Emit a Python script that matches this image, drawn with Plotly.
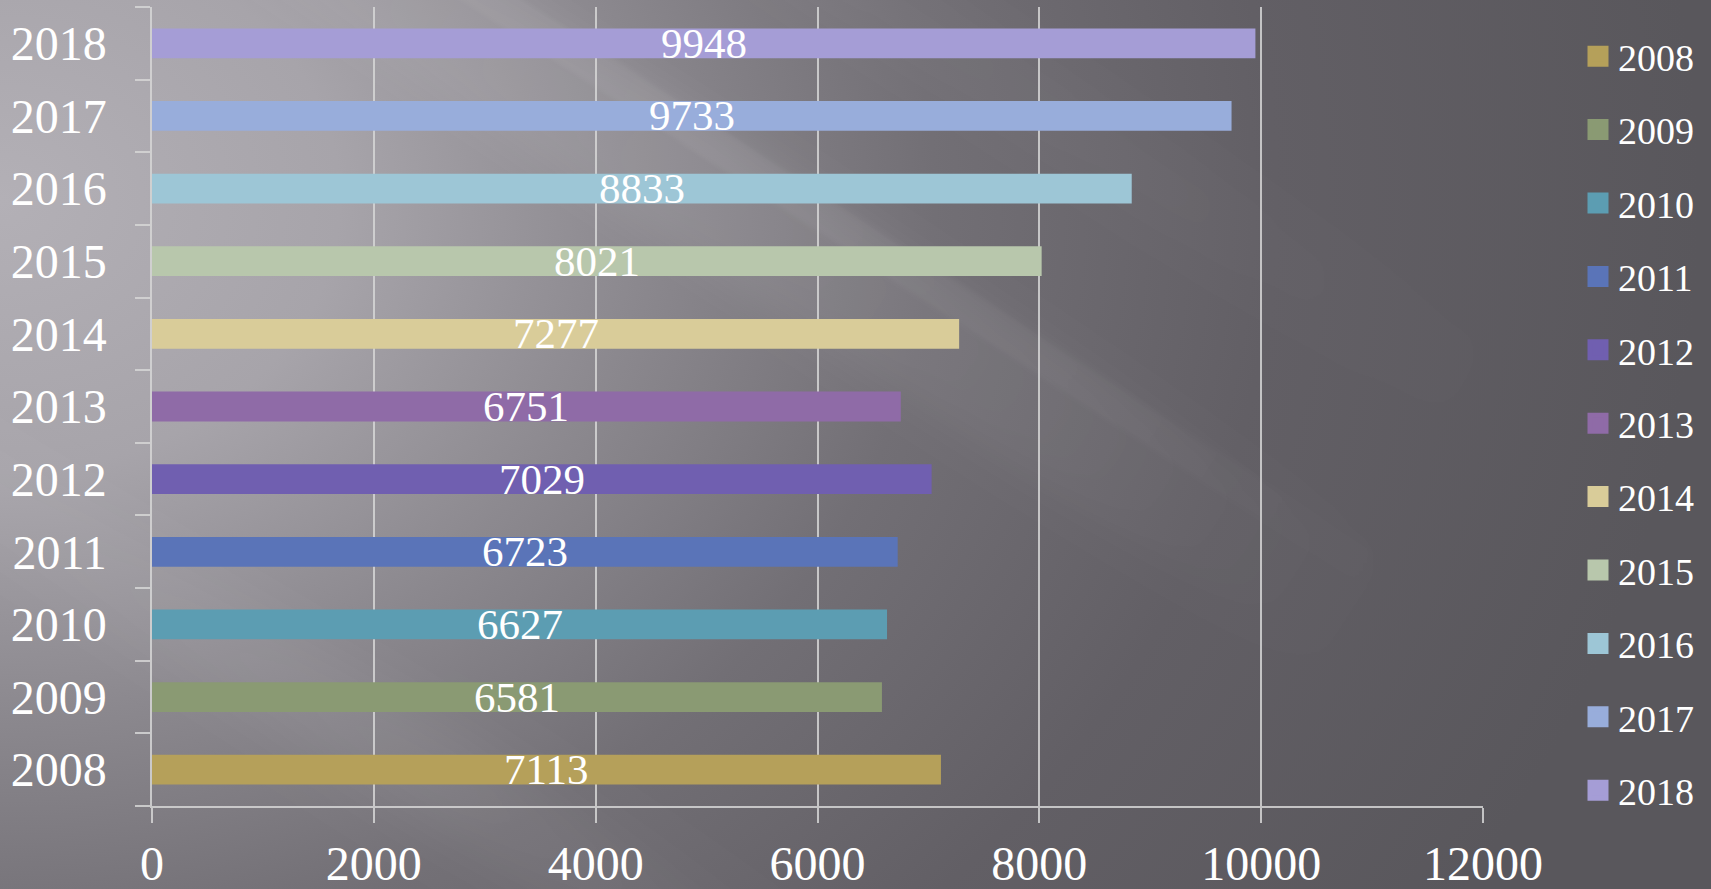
import base64
import plotly.graph_objects as go

# ---- data ----
years = ["2008", "2009", "2010", "2011", "2012", "2013", "2014", "2015", "2016", "2017", "2018"]
values = [7113, 6581, 6627, 6723, 7029, 6751, 7277, 8021, 8833, 9733, 9948]
bar_colors = ["#b5a05a", "#8a9a73", "#5c9db2", "#5a74b8", "#705fb0", "#8f6ba7",
              "#d9cc99", "#b8c7ac", "#9dc6d6", "#98addb", "#a59dd6"]
x_ticks = [0, 2000, 4000, 6000, 8000, 10000, 12000]

# ---- layout geometry (pixels) ----
W, H = 1711, 889
ML, MR, MT, MB = 152, 228, 7, 83
PW, PH = W - ML - MR, H - MT - MB

def px(x):
    return (x - ML) / PW

def py(y):
    return (H - MB - y) / PH

FONT = "Liberation Serif"
GRID = "rgba(214,214,214,0.85)"

# ---- background (decorative SVG gradient with soft light rays) ----
def ray(b1, b2, slope, grad, op, blur):
    pts = [(-300, -300 * slope + b1), (2000, 2000 * slope + b1),
           (2000, 2000 * slope + b2), (-300, -300 * slope + b2)]
    p = " ".join(f"{a:.0f},{c:.0f}" for a, c in pts)
    return (f"<polygon points='{p}' fill='url(#{grad})' fill-opacity='{op}' "
            f"filter='url(#b{blur})'/>")

svg = (
    f"<svg xmlns='http://www.w3.org/2000/svg' width='{W}' height='{H}' viewBox='0 0 {W} {H}' "
    "preserveAspectRatio='none'>"
    "<defs>"
    "<radialGradient id='g' cx='0' cy='200' r='1700' gradientUnits='userSpaceOnUse' "
    "gradientTransform='translate(0,200) scale(1,0.8) translate(0,-200)'>"
    "<stop offset='0' stop-color='#b3b0b6'/>"
    "<stop offset='0.2' stop-color='#a7a4aa'/>"
    "<stop offset='0.38' stop-color='#8b888e'/>"
    "<stop offset='0.55' stop-color='#726f75'/>"
    "<stop offset='0.75' stop-color='#625f65'/>"
    "<stop offset='1' stop-color='#59575c'/>"
    "</radialGradient>"
    "<linearGradient id='r1' gradientUnits='userSpaceOnUse' x1='350' y1='-110' x2='1400' y2='570'>"
    "<stop offset='0' stop-color='#fff' stop-opacity='0.6'/>"
    "<stop offset='0.35' stop-color='#fff' stop-opacity='1'/>"
    "<stop offset='0.7' stop-color='#fff' stop-opacity='0.6'/>"
    "<stop offset='1' stop-color='#fff' stop-opacity='0'/>"
    "</linearGradient>"
    "<linearGradient id='r2' gradientUnits='userSpaceOnUse' x1='0' y1='480' x2='900' y2='1040'>"
    "<stop offset='0' stop-color='#fff' stop-opacity='0.5'/>"
    "<stop offset='0.5' stop-color='#fff' stop-opacity='1'/>"
    "<stop offset='1' stop-color='#fff' stop-opacity='0'/>"
    "</linearGradient>"
    "<filter id='b2' x='-50%' y='-50%' width='200%' height='200%'><feGaussianBlur stdDeviation='2'/></filter>"
    "<filter id='b20' x='-50%' y='-50%' width='200%' height='200%'><feGaussianBlur stdDeviation='20'/></filter>"
    "<filter id='b30' x='-50%' y='-50%' width='200%' height='200%'><feGaussianBlur stdDeviation='30'/></filter>"
    "</defs>"
    f"<rect width='{W}' height='{H}' fill='url(#g)'/>"
    + ray(-340, -300, 0.65, "r1", 0.05, 2)
    + ray(-340, -190, 0.65, "r1", 0.08, 20)
    + ray(450, 560, 0.62, "r2", 0.07, 30)
    + ray(-620, -520, 0.65, "r1", 0.03, 20)
    + "</svg>"
)
bg_src = "data:image/svg+xml;base64," + base64.b64encode(svg.encode()).decode()

fig = go.Figure()

# bars
fig.add_trace(go.Bar(
    x=values, y=years, orientation="h",
    marker=dict(color=bar_colors, line=dict(width=0)),
    width=0.41, showlegend=False, hoverinfo="x+y",
))

# legend entries
for yr, c in zip(years, bar_colors):
    fig.add_trace(go.Scatter(
        x=[None], y=[None], mode="markers", name=yr, legendgroup=yr,
        marker=dict(symbol="square", size=16, color=c, line=dict(color=c, width=5)),
    ))

# data labels centred on each bar (category axis: annotation y is the category index)
for i, v in enumerate(values):
    fig.add_annotation(
        x=v / 2, y=i, xref="x", yref="y", text=str(v), showarrow=False,
        xanchor="center", yanchor="middle", yshift=0,
        font=dict(family=FONT, size=43, color="white"),
    )

fig.update_layout(
    width=W, height=H,
    margin=dict(l=ML, r=MR, t=MT, b=MB, pad=0, autoexpand=False),
    paper_bgcolor="#66646a",
    plot_bgcolor="rgba(0,0,0,0)",
    barmode="overlay",
    font=dict(family=FONT, color="white"),
    showlegend=True,
    legend=dict(
        x=px(1578), xanchor="left", y=py(25), yanchor="top",
        font=dict(family=FONT, size=38, color="white"),
        bgcolor="rgba(0,0,0,0)", borderwidth=0,
        traceorder="grouped", tracegroupgap=21, maxheight=880,
        itemclick=False, itemdoubleclick=False,
    ),
    images=[dict(
        source=bg_src, xref="paper", yref="paper",
        x=px(0), y=py(0), sizex=W / PW, sizey=H / PH,
        xanchor="left", yanchor="top", sizing="stretch", layer="below",
    )],
    xaxis=dict(
        range=[0, 12000], tickvals=x_ticks, ticktext=[str(t) for t in x_ticks],
        showgrid=True, gridcolor=GRID, gridwidth=1.5,
        zeroline=False, showline=True, linecolor=GRID, linewidth=1.5,
        ticks="outside", ticklen=15, tickcolor=GRID, tickwidth=1.5,
        tickfont=dict(family=FONT, size=48, color="white"),
        ticklabelstandoff=0, automargin=False,
    ),
    yaxis=dict(
        type="category", categoryorder="array", categoryarray=years,
        range=[-0.5, len(years) - 0.5],
        showgrid=False, zeroline=False,
        showline=True, linecolor=GRID, linewidth=1.5,
        ticks="outside", tickson="boundaries", ticklen=15, tickcolor=GRID, tickwidth=1.5,
        tickfont=dict(family=FONT, size=48, color="white"),
        ticklabelstandoff=34, automargin=False,
    ),
)

fig.write_html(
    "out.html",
    config={"displayModeBar": False},
    post_script="document.body.style.margin='0px';document.body.style.overflow='hidden';",
)
